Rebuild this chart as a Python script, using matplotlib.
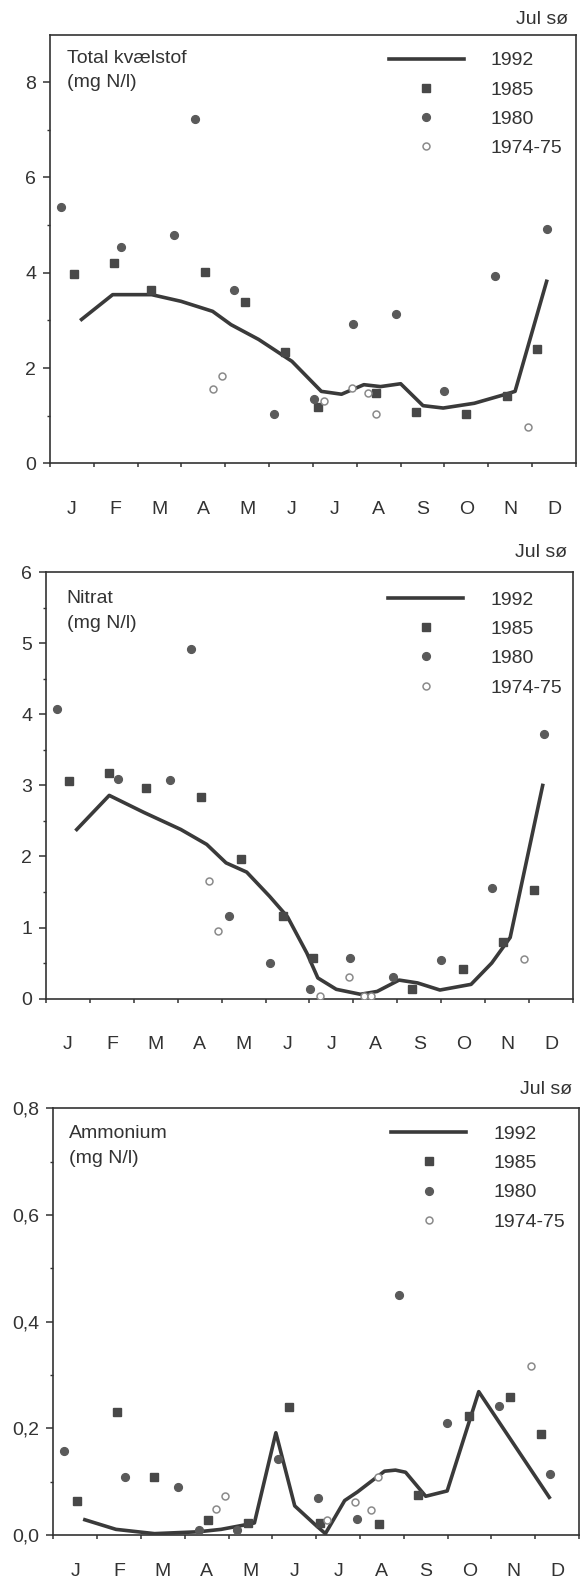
import matplotlib.pyplot as plt
from matplotlib.lines import Line2D

plt.rcParams['font.family'] = ['Liberation Sans', 'DejaVu Sans']

# x in months from 1 January (0) to 31 December (12)
months = ['J', 'F', 'M', 'A', 'M', 'J', 'J', 'A', 'S', 'O', 'N', 'D']
years = ['1992', '1985', '1980', '1974-75']

# --- Total kvælstof (mg N/l)
tn_1992_x = [0.72, 1.43, 2.32, 2.99, 3.71, 4.13, 4.76, 5.52, 6.19, 6.65, 7.16, 7.54,
             8.0, 8.51, 8.97, 9.68, 10.36, 10.61, 11.33]
tn_1992_y = [3.02, 3.54, 3.54, 3.40, 3.19, 2.91, 2.60, 2.14, 1.51, 1.45, 1.65, 1.61,
             1.67, 1.21, 1.16, 1.26, 1.44, 1.51, 3.82]
tn_1985_x = [0.55, 1.46, 2.30, 3.54, 4.44, 5.37, 6.11, 7.44, 8.34, 9.50, 10.43, 11.12]
tn_1985_y = [3.98, 4.21, 3.64, 4.01, 3.38, 2.34, 1.19, 1.47, 1.07, 1.04, 1.42, 2.39]
tn_1980_x = [0.25, 1.63, 2.84, 3.31, 4.19, 5.12, 6.03, 6.92, 7.90, 8.99, 10.16, 11.34]
tn_1980_y = [5.39, 4.53, 4.80, 7.23, 3.63, 1.03, 1.35, 2.93, 3.13, 1.52, 3.94, 4.92]
tn_1974_x = [3.72, 3.93, 6.25, 6.89, 7.25, 7.44, 10.91]
tn_1974_y = [1.56, 1.84, 1.30, 1.58, 1.47, 1.03, 0.77]

# --- Nitrat (mg N/l)
no3_1992_x = [0.70, 1.44, 2.23, 3.07, 3.66, 4.10, 4.57, 5.09, 5.50, 5.94, 6.19, 6.61,
              7.16, 7.54, 8.04, 8.46, 8.97, 9.68, 10.15, 10.57, 11.31]
no3_1992_y = [2.38, 2.86, 2.62, 2.38, 2.17, 1.91, 1.78, 1.44, 1.15, 0.64, 0.29, 0.13,
              0.06, 0.10, 0.26, 0.22, 0.12, 0.20, 0.50, 0.86, 3.0]
no3_1985_x = [0.53, 1.44, 2.28, 3.53, 4.43, 5.39, 6.09, 8.34, 9.50, 10.40, 11.11]
no3_1985_y = [3.06, 3.18, 2.96, 2.84, 1.97, 1.16, 0.57, 0.13, 0.42, 0.79, 1.53]
no3_1980_x = [0.24, 1.63, 2.83, 3.30, 4.17, 5.11, 6.02, 6.92, 7.90, 8.99, 10.16, 11.33]
no3_1980_y = [4.08, 3.09, 3.07, 4.92, 1.16, 0.50, 0.13, 0.57, 0.31, 0.54, 1.56, 3.72]
no3_1974_x = [3.71, 3.92, 6.24, 6.89, 7.24, 7.41, 10.89]
no3_1974_y = [1.65, 0.95, 0.03, 0.31, 0.03, 0.03, 0.56]

# --- Ammonium (mg N/l)
nh4_1992_x = [0.72, 1.43, 2.31, 3.32, 3.83, 4.38, 4.59, 5.08, 5.51, 5.98, 6.21, 6.65,
              6.94, 7.56, 7.81, 8.04, 8.50, 8.99, 9.71, 11.32]
nh4_1992_y = [0.029, 0.011, 0.003, 0.0065, 0.011, 0.0195, 0.023, 0.192, 0.055, 0.0195,
              0.003, 0.065, 0.081, 0.120, 0.122, 0.118, 0.073, 0.083, 0.269, 0.071]
nh4_1985_x = [0.55, 1.46, 2.30, 3.54, 4.44, 5.38, 6.09, 7.43, 8.33, 9.49, 10.42, 11.13]
nh4_1985_y = [0.065, 0.23, 0.11, 0.028, 0.023, 0.241, 0.023, 0.021, 0.075, 0.224, 0.259, 0.19]
nh4_1980_x = [0.25, 1.64, 2.85, 3.32, 4.19, 5.13, 6.04, 6.93, 7.90, 8.99, 10.17, 11.34]
nh4_1980_y = [0.158, 0.11, 0.09, 0.01, 0.01, 0.142, 0.07, 0.031, 0.45, 0.211, 0.242, 0.114]
nh4_1974_x = [3.72, 3.93, 6.25, 6.89, 7.26, 7.42, 10.90]
nh4_1974_y = [0.049, 0.073, 0.028, 0.062, 0.047, 0.109, 0.317]

INK = '#333333'
FS = 14


def draw_panel(ax, title, line, sq, dots, rings, ymax, yticks, yminor, yticklabels,
               legend_anchor, title_pos, place_pos, month_pad=27):
    ax.plot(line[0], line[1], color='#3a3a3a', lw=2.6, solid_joinstyle='round', zorder=3)
    ax.plot(sq[0], sq[1], ls='none', marker='s', ms=5.6, color='#484848', zorder=4)
    ax.plot(dots[0], dots[1], ls='none', marker='o', ms=5.6, color='#5a5a5a', zorder=4)
    ax.plot(rings[0], rings[1], ls='none', marker='o', ms=5, mfc='white', mec='#8a8a8a',
            mew=1.1, zorder=4)

    ax.set_xlim(0, 12)
    ax.set_ylim(0, ymax)
    ax.set_xticks(range(13))
    ax.set_xticklabels([])
    ax.set_xticks([m + 0.5 for m in range(12)], minor=True)
    ax.set_xticklabels(months, minor=True)
    ax.set_yticks(yticks)
    ax.set_yticklabels(yticklabels)
    ax.set_yticks(yminor, minor=True)

    ax.tick_params(axis='x', which='major', direction='out', length=3.2, width=1.1, color=INK)
    ax.tick_params(axis='x', which='minor', length=0, pad=month_pad, labelsize=FS,
                   labelcolor=INK)
    ax.tick_params(axis='y', which='major', direction='out', length=5, width=1.1, color=INK,
                   pad=5, labelsize=FS, labelcolor=INK)
    ax.tick_params(axis='y', which='minor', direction='out', length=2.5, width=1, color=INK)
    for s in ax.spines.values():
        s.set_color(INK)
        s.set_linewidth(1.2)

    ax.text(title_pos[0], title_pos[1], title, transform=ax.transAxes, ha='left', va='top',
            fontsize=FS, color=INK, linespacing=1.6)
    ax.text(place_pos[0], place_pos[1], 'Jul sø', transform=ax.transAxes, ha='right',
            va='center', fontsize=FS, color=INK, clip_on=False)

    handles = [
        Line2D([], [], color='#3a3a3a', lw=2.6),
        Line2D([], [], ls='none', marker='s', ms=5.6, color='#484848'),
        Line2D([], [], ls='none', marker='o', ms=5.6, color='#5a5a5a'),
        Line2D([], [], ls='none', marker='o', ms=5, mfc='white', mec='#8a8a8a', mew=1.1),
    ]
    leg = ax.legend(handles, years, loc='upper left', bbox_to_anchor=legend_anchor,
                    frameon=False, fontsize=FS, handlelength=3.86, handletextpad=1.39,
                    labelspacing=0.6, borderpad=0, borderaxespad=0, numpoints=1)
    for t in leg.get_texts():
        t.set_color(INK)


fig = plt.figure(figsize=(5.8, 15.85), dpi=100)

ax1 = fig.add_axes([0.0862, 0.7077, 0.9069, 0.2705])
draw_panel(ax1, 'Total kvælstof\n(mg N/l)',
           (tn_1992_x, tn_1992_y), (tn_1985_x, tn_1985_y),
           (tn_1980_x, tn_1980_y), (tn_1974_x, tn_1974_y),
           9.0, [0, 2, 4, 6, 8], [1, 3, 5, 7], ['0', '2', '4', '6', '8'],
           (0.644, 0.96), (0.032, 0.965), (0.985, 1.036))

ax2 = fig.add_axes([0.0793, 0.3700, 0.9086, 0.2689])
draw_panel(ax2, 'Nitrat\n(mg N/l)',
           (no3_1992_x, no3_1992_y), (no3_1985_x, no3_1985_y),
           (no3_1980_x, no3_1980_y), (no3_1974_x, no3_1974_y),
           6.0, [0, 1, 2, 3, 4, 5, 6], [0.5, 1.5, 2.5, 3.5, 4.5, 5.5],
           ['0', '1', '2', '3', '4', '5', '6'],
           (0.649, 0.956), (0.039, 0.959), (0.988, 1.046))

ax3 = fig.add_axes([0.0919, 0.0314, 0.9065, 0.2694])
draw_panel(ax3, 'Ammonium\n(mg N/l)',
           (nh4_1992_x, nh4_1992_y), (nh4_1985_x, nh4_1985_y),
           (nh4_1980_x, nh4_1980_y), (nh4_1974_x, nh4_1974_y),
           0.8, [0, 0.2, 0.4, 0.6, 0.8], [0.1, 0.3, 0.5, 0.7],
           ['0,0', '0,2', '0,4', '0,6', '0,8'],
           (0.643, 0.96), (0.030, 0.961), (0.987, 1.045), month_pad=20)

fig.savefig('out.png', dpi=100)
